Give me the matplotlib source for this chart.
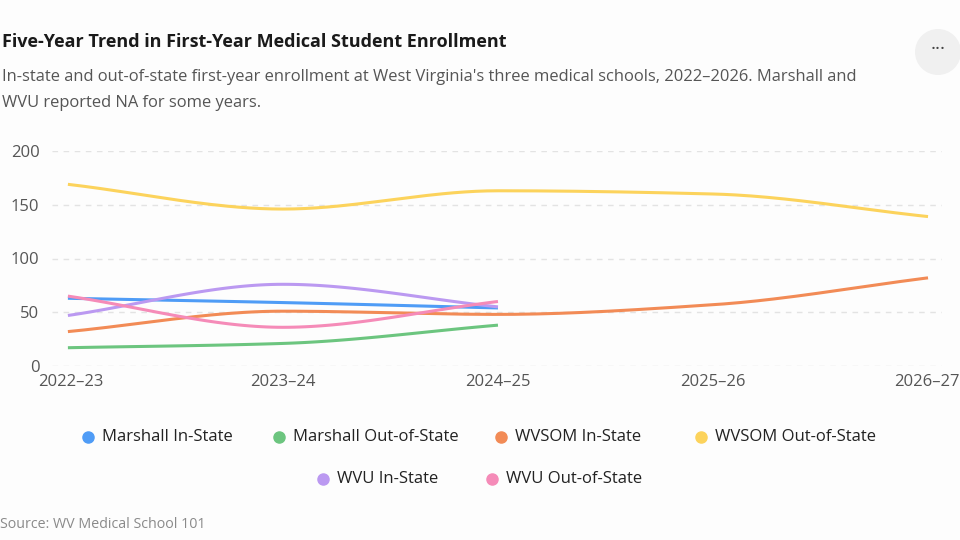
import numpy as np
import matplotlib.pyplot as plt
import matplotlib.transforms as mtrans
from matplotlib.lines import Line2D
from matplotlib.patches import Ellipse

plt.rcParams['font.family'] = ['Open Sans', 'DejaVu Sans']

years = ['2022–23', '2023–24', '2024–25', '2025–26', '2026–27']

# None = NA reported
marshall_in = [63, 59, 54, None, None]
marshall_out = [17, 21, 38, None, None]
wvsom_in = [32, 51, 48, 57, 82]
wvsom_out = [169, 146, 163, 160, 139]
wvu_in = [47, 76, 55, None, None]
wvu_out = [65, 36, 60, None, None]

series = [
    ('Marshall In-State', marshall_in, '#4f9cf6'),
    ('Marshall Out-of-State', marshall_out, '#6cc57f'),
    ('WVSOM In-State', wvsom_in, '#f28b56'),
    ('WVSOM Out-of-State', wvsom_out, '#fcd35c'),
    ('WVU In-State', wvu_in, '#bb99f1'),
    ('WVU Out-of-State', wvu_out, '#f58bb8'),
]


def smooth(xs, ys, n=40):
    # monotone cubic (Fritsch-Carlson) just for drawing the line
    xs = np.asarray(xs, float)
    ys = np.asarray(ys, float)
    h = np.diff(xs)
    d = np.diff(ys) / h
    m = np.zeros(len(xs))
    m[0], m[-1] = d[0], d[-1]
    for i in range(1, len(xs) - 1):
        if d[i - 1] * d[i] <= 0:
            m[i] = 0
        else:
            m[i] = 2 / (1 / d[i - 1] + 1 / d[i])
    px, py = [], []
    for i in range(len(xs) - 1):
        t = np.linspace(0, 1, n)
        h00 = 2 * t**3 - 3 * t**2 + 1
        h10 = t**3 - 2 * t**2 + t
        h01 = -2 * t**3 + 3 * t**2
        h11 = t**3 - t**2
        px.extend(xs[i] + t * h[i])
        py.extend(h00 * ys[i] + h10 * h[i] * m[i] + h01 * ys[i + 1] + h11 * h[i] * m[i + 1])
    return px, py


fig = plt.figure(figsize=(9.6, 5.4), dpi=100)
fig.patch.set_facecolor('#fdfdfd')

ax = fig.add_axes([52 / 960, 174 / 540, 890 / 960, 215 / 540])
ax.set_facecolor('#fdfdfd')

for name, vals, col in series:
    idx = [i for i, v in enumerate(vals) if v is not None]
    sx, sy = smooth(idx, [vals[i] for i in idx])
    ax.plot(sx, sy, color=col, lw=2.2, solid_capstyle='butt', zorder=3)

ax.set_xlim(-0.074, 4.065)
ax.set_ylim(0, 200)
ax.set_yticks([0, 50, 100, 150, 200])
ax.set_xticks(range(len(years)))
ax.set_xticklabels(years)
ax.grid(axis='y', color='#e3e3e3', ls=(0, (4, 4)), lw=1)
for s in ax.spines.values():
    s.set_visible(False)
ax.tick_params(length=0, labelsize=12, colors='#555555')
ax.tick_params(axis='y', pad=9)
ax.tick_params(axis='x', pad=6)
labs = ax.get_xticklabels()
labs[0].set_ha('left')
labs[-1].set_ha('right')
# shift edge labels like the reference
labs[0].set_transform(labs[0].get_transform() + mtrans.ScaledTranslation(-30 / 100, 0, fig.dpi_scale_trans))
labs[-1].set_transform(labs[-1].get_transform() + mtrans.ScaledTranslation(32 / 100, 0, fig.dpi_scale_trans))

fig.text(2 / 960, 1 - 42 / 540, 'Five-Year Trend in First-Year Medical Student Enrollment',
         fontsize=13, fontweight='bold', color='#1a1a1a', va='center')
fig.text(2 / 960, 1 - 77 / 540,
         "In-state and out-of-state first-year enrollment at West Virginia's three medical schools, 2022–2026. Marshall and",
         fontsize=11.85, color='#555555', va='center')
fig.text(2 / 960, 1 - 103 / 540, 'WVU reported NA for some years.',
         fontsize=11.85, color='#555555', va='center')
fig.text(0, 1 - 524 / 540, 'Source: WV Medical School 101', fontsize=10.3, color='#8a8a8a', va='center')

# "..." menu button
fig.add_artist(Ellipse((938 / 960, 1 - 52 / 540), 46 / 960, 46 / 540, transform=fig.transFigure,
                       facecolor='#f0f0f0', edgecolor='none'))
fig.text(938 / 960, 1 - 49 / 540, '···', ha='center', va='center', fontsize=14, color='#444444')

# legend placed by hand in two centred rows
leg_pos = [(88, 437), (279, 437), (501, 437), (701, 437), (323, 479), (492, 479)]
for (name, vals, col), (lx, ly) in zip(series, leg_pos):
    fig.add_artist(Line2D([lx / 960], [1 - ly / 540], marker='o', ms=8, color=col,
                          transform=fig.transFigure, ls='none'))
    fig.text((lx + 14) / 960, 1 - ly / 540, name, fontsize=12, color='#222222', va='center')

fig.savefig('out.png', dpi=100, facecolor=fig.get_facecolor())
